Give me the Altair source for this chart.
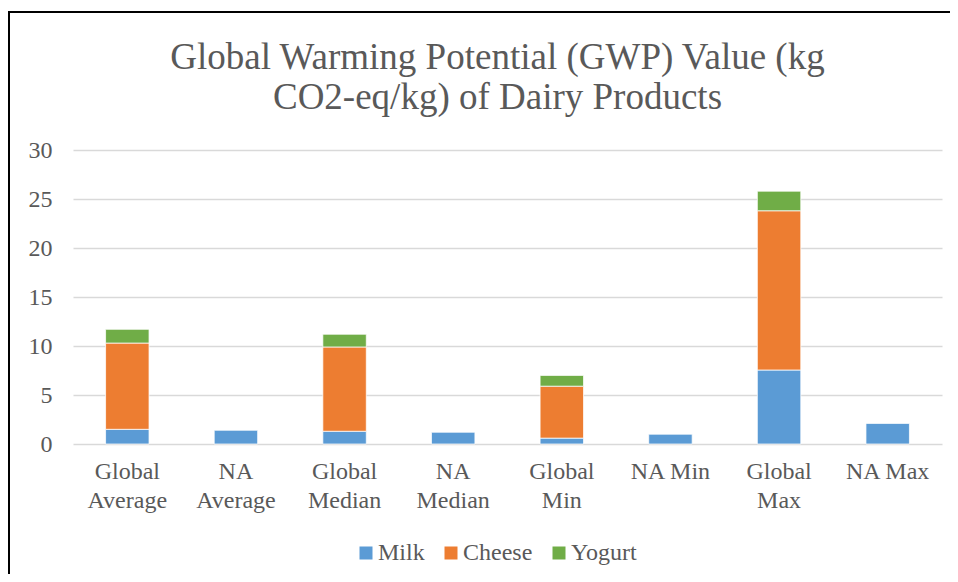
import altair as alt
import pandas as pd

categories = ["Global Average", "NA Average", "Global Median", "NA Median",
              "Global Min", "NA Min", "Global Max", "NA Max"]
milk = [1.5, 1.4, 1.3, 1.2, 0.6, 1.0, 7.55, 2.1]
cheese = [8.8, None, 8.6, None, 5.3, None, 16.25, None]
yogurt = [1.4, None, 1.3, None, 1.1, None, 2.0, None]
series = ["Milk", "Cheese", "Yogurt"]
colors = ["#5b9bd5", "#ed7d31", "#70ad47"]

rows = []
for i, c in enumerate(categories):
    for s, vals in zip(series, [milk, cheese, yogurt]):
        if vals[i] is not None:
            rows.append({"category": c, "series": s, "value": vals[i],
                         "ord": series.index(s)})
df = pd.DataFrame(rows)

FONT = "'Liberation Serif', 'Times New Roman', serif"
GRAY = "#595959"

W, H = 869, 294
PAD = {"left": 65, "top": 142, "right": 8, "bottom": 130}

bars = alt.Chart(df).mark_bar(stroke="white", strokeWidth=0.75).encode(
    x=alt.X("category:N", sort=categories,
            scale=alt.Scale(paddingInner=0.6, paddingOuter=0.3),
            axis=alt.Axis(title=None, labelAngle=0, domain=False, ticks=False, grid=False,
                          labelFont=FONT, labelFontSize=24, labelColor=GRAY,
                          labelPadding=15, labelLineHeight=29,
                          labelExpr="(datum.label == 'NA Min' || datum.label == 'NA Max') ? datum.label : split(datum.label, ' ')")),
    y=alt.Y("value:Q", stack="zero",
            scale=alt.Scale(domain=[0, 30]),
            axis=alt.Axis(title=None, values=[0, 5, 10, 15, 20, 25, 30], domain=False, ticks=False,
                          gridColor="#d9d9d9", gridWidth=1.5,
                          labelFont=FONT, labelFontSize=24, labelColor=GRAY, labelPadding=21)),
    color=alt.Color("series:N", sort=series,
                    scale=alt.Scale(domain=series, range=colors),
                    legend=alt.Legend(title=None, orient="none", direction="horizontal",
                                      legendX=281, legendY=391, symbolType="square",
                                      symbolSize=169, symbolStrokeWidth=0,
                                      labelFont=FONT, labelFontSize=24, labelColor=GRAY,
                                      labelOffset=0, columnPadding=14, padding=0)),
    order=alt.Order("ord:Q"),
)

frame_src = pd.DataFrame({"a": [0]})
top_line = alt.Chart(frame_src).mark_rule(color="black", strokeWidth=2).encode(
    x=alt.value(-65), x2=alt.value(W + PAD["right"]), y=alt.value(-138))
left_line = alt.Chart(frame_src).mark_rule(color="black", strokeWidth=2).encode(
    x=alt.value(-64), y=alt.value(-139), y2=alt.value(H + PAD["bottom"]))

chart = alt.layer(top_line, left_line, bars).properties(
    width=W, height=H,
    autosize=alt.AutoSizeParams(type="none"),
    padding=PAD,
    title=alt.Title(["Global Warming Potential (GWP) Value (kg", "CO2-eq/kg) of Dairy Products"],
                    font=FONT, fontSize=37, fontWeight="normal", color=GRAY,
                    anchor="middle", frame="group", dx=-10, lineHeight=40, offset=-107),
).configure_view(stroke=None).configure_legend(labelFont=FONT)

chart.save("out.html", embed_options={"renderer": "svg", "actions": False})
